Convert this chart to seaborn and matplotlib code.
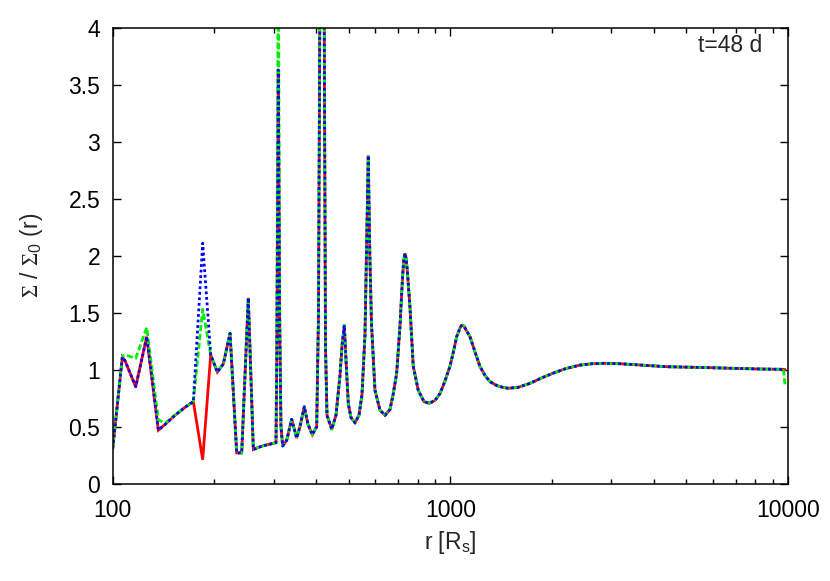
import numpy as np
import pandas as pd
import matplotlib
matplotlib.use("Agg")
import matplotlib.pyplot as plt
import seaborn as sns

# ====== Data ======
# inner disc, where the three runs differ
r_inner = [100.0, 101.6, 106.8, 108.7, 117.0, 126.1, 136.5, 142.9, 152.9, 163.7,
           173.3, 184.7, 195.1, 204.1, 212.6, 222.6, 232.9, 241.0, 252.1, 260.9,
           276.8, 299.0, 304.5, 306.3, 309.3, 312.3, 315.0, 318.7]
red_inner = [0.31, 0.50, 1.11, 1.08, 0.85, 1.29, 0.47, 0.52, 0.60, 0.67,
             0.72, 0.21, 1.13, 0.98, 1.05, 1.32, 0.27, 0.27, 1.63, 0.30,
             0.33, 0.354, 0.36, 1.2, 3.63, 1.4, 0.5, 0.33]
green_inner = [0.31, 0.50, 1.12, 1.13, 1.10, 1.37, 0.56, 0.53, 0.60, 0.67,
               0.72, 1.53, 1.13, 0.98, 1.05, 1.32, 0.27, 0.27, 1.63, 0.30,
               0.33, 0.354, 0.36, 1.4, 4.8, 1.6, 0.5, 0.33]
blue_inner = [0.31, 0.50, 1.11, 1.08, 0.85, 1.29, 0.47, 0.52, 0.60, 0.67,
              0.72, 2.11, 1.13, 0.98, 1.05, 1.32, 0.27, 0.27, 1.63, 0.30,
              0.33, 0.354, 0.36, 1.2, 3.63, 1.4, 0.5, 0.33]

# outer disc, identical for all runs
r_outer = [327.5, 338.9, 350.6, 358.5, 369.4, 378.8, 390.1, 401.9, 406.9, 411.1,
           416.8, 422.5, 426.8, 431.2, 445.3, 458.4, 471.1, 478.0, 485.2, 491.5,
           498.6, 507.8, 521.9, 536.3, 547.3, 558.6, 565.0, 571.3, 577.5, 584.0,
           598.1, 618.7, 640.4, 662.4, 677.5, 693.4, 709.1, 721.4, 727.5, 733.7,
           740.0, 746.4, 759.2, 776.4, 803.3, 835.2, 865.9, 900.3, 931.5, 963.8,
           997.3, 1020, 1044, 1066, 1077, 1087.5, 1099, 1112, 1143, 1182,
           1223, 1266, 1310, 1374, 1430, 1484, 1586, 1721, 1855, 2017,
           2199, 2420, 2620, 2836, 3150, 3480, 4372, 5483, 6883, 8256, 9700]
sigma_outer = [0.38, 0.565, 0.40, 0.50, 0.675, 0.52, 0.43, 0.50, 1.5, 4.5,
               6.0, 4.5, 1.2, 0.6, 0.477, 0.6, 0.95, 1.22, 1.39, 1.05,
               0.70, 0.58, 0.535, 0.6, 0.78, 1.3, 2.1, 2.88, 2.0, 1.4,
               0.82, 0.646, 0.60, 0.65, 0.79, 0.97, 1.38, 1.8, 1.96, 2.02,
               1.97, 1.85, 1.55, 1.03, 0.82, 0.72, 0.705, 0.73, 0.79, 0.90,
               1.03, 1.15, 1.29, 1.36, 1.385, 1.39, 1.38, 1.35, 1.29, 1.16,
               1.03, 0.95, 0.895, 0.86, 0.845, 0.837, 0.845, 0.88, 0.925, 0.97,
               1.01, 1.04, 1.052, 1.056, 1.053, 1.045, 1.026, 1.02, 1.012, 1.006, 1.003]

# outer boundary point
r_edge = [9800]
red_edge = [1.0]
green_edge = [0.86]
blue_edge = [1.0]

series = ["red", "green", "blue"]

# ====== Long-form table ======
r_all = r_inner + r_outer + r_edge
frames = []
for name, inner, edge in [("red", red_inner, red_edge),
                          ("green", green_inner, green_edge),
                          ("blue", blue_inner, blue_edge)]:
    frames.append(pd.DataFrame({"r": r_all,
                                "sigma": inner + sigma_outer + edge,
                                "run": name}))
df = pd.concat(frames, ignore_index=True)

# ====== Plot ======
sns.set_style("ticks")
plt.rcParams["font.family"] = ["Liberation Sans", "DejaVu Sans"]
# sans for math text, serif only for the Sigma (via \mathcal)
plt.rcParams["mathtext.fontset"] = "custom"
plt.rcParams["mathtext.rm"] = "Liberation Sans"
plt.rcParams["mathtext.it"] = "Liberation Sans:italic"
plt.rcParams["mathtext.cal"] = "Liberation Serif"

fig = plt.figure(figsize=(8.3, 5.81), dpi=100)
ax = fig.add_axes([0.1358, 0.1675, 0.8136, 0.7848])

sns.lineplot(data=df, x="r", y="sigma", hue="run", style="run",
             hue_order=series, style_order=series,
             palette={"red": "#ff0000", "green": "#00ee00", "blue": "#0000ff"},
             dashes={"red": "", "green": (2.2, 1.0), "blue": (1.0, 1.0)},
             sort=False, estimator=None, linewidth=2.0, legend=False, ax=ax)
for line in ax.get_lines():
    line.set_dash_capstyle("butt")
    line.set_solid_joinstyle("miter")

ax.set_xscale("log")
ax.set_xlim(100, 10000)
ax.set_ylim(0, 4)
ax.set_xticks([100, 1000, 10000])
ax.set_xticklabels(["100", "1000", "10000"])
ax.set_yticks(np.arange(0, 4.01, 0.5))
ax.set_yticklabels(["0", "0.5", "1", "1.5", "2", "2.5", "3", "3.5", "4"])

ax.tick_params(which="both", direction="in", top=True, right=True,
               labelsize=16.5, colors="black", width=1)
ax.tick_params(which="major", length=6)
ax.tick_params(which="minor", length=3.5)
ax.tick_params(axis="x", which="major", pad=11)
ax.tick_params(axis="y", which="major", pad=9)
for sp in ax.spines.values():
    sp.set_visible(True)
    sp.set_color("black")
    sp.set_linewidth(1.1)

ax.set_xlabel(r"r [R$_{\mathrm{s}}$]", fontsize=16.5, labelpad=5)
ax.set_ylabel(r"$\mathcal{\Sigma}$ / $\mathcal{\Sigma}_{\mathrm{0}}$ (r)", fontsize=16.5, labelpad=17)

ax.text(0.9615, 0.962, "t=48 d", transform=ax.transAxes,
        ha="right", va="center", fontsize=16.5)

fig.savefig("out.png", dpi=100)
